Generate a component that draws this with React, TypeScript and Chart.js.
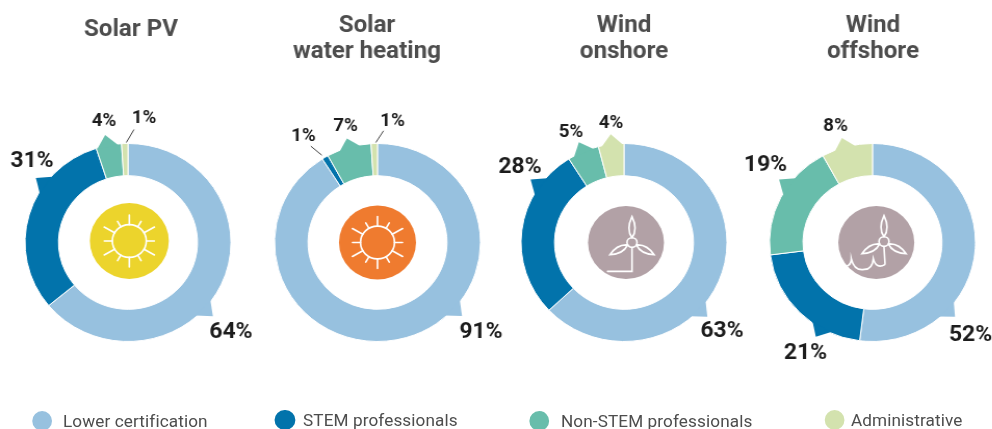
import React, { useEffect, useRef } from "react";
import { Chart, registerables } from "chart.js";

Chart.register(...registerables);

// ---- data ----
const categories = ["Lower certification", "STEM professionals", "Non-STEM professionals", "Administrative"];
const solarPV = [64, 31, 4, 1];
const solarWaterHeating = [91, 1, 7, 1];
const windOnshore = [63, 28, 5, 4];
const windOffshore = [52, 21, 19, 8];
const titleSolarPV = ["Solar PV"];
const titleSolarWater = ["Solar", "water heating"];
const titleOnshore = ["Wind", "onshore"];
const titleOffshore = ["Wind", "offshore"];

// ---- styling / layout ----
// The reference is stretched horizontally by about 4%: the whole stage is drawn narrower and scaled.
const SX = 1.04;
const colors = ["#97c1df", "#0273ab", "#68bdab", "#d3e2ae"];
const TEXT_DARK = "#1c1c1c";
const TITLE = "#4d4d4d";
const OUTER = 99;
const INNER = 66.5;
const CY = 242.5;

type Callout = { dx: number; dy: number; big: boolean; tip?: [number, number]; leader?: [number, number, number, number] };
type Panel = {
  values: number[];
  title: string[];
  titleX: number;
  titleBase: number;
  cx: number;
  left: number;
  width: number;
  icon: "sun" | "onshore" | "offshore";
  iconColor: string;
  iconDx: number;
  iconDy: number;
  iconR: number;
  callouts: Callout[];
};

// cx, titleX, iconDx, callout offsets and tips are in screen pixels; left/width are in stage pixels
const panels: Panel[] = [
  {
    values: solarPV, title: titleSolarPV, titleX: 131, titleBase: 35.5, cx: 128, left: 0, width: 270,
    icon: "sun", iconColor: "#ecd42c", iconDx: 1.3, iconDy: -1.5, iconR: 39.5,
    callouts: [
      { dx: 103, dy: 90, big: true, tip: [131, 112.5] },
      { dx: -96, dy: -81, big: true, tip: [305, 112.5] },
      { dx: -24, dy: -121, big: false, tip: [348, 110] },
      { dx: 16, dy: -124, big: false, leader: [-1.7, -100, 6, -113] },
    ],
  },
  {
    values: solarWaterHeating, title: titleSolarWater, titleX: 367, titleBase: 32, cx: 377.5, left: 221, width: 280,
    icon: "sun", iconColor: "#ef7b2f", iconDx: 0, iconDy: 0, iconR: 38.5,
    callouts: [
      { dx: 103.5, dy: 89.5, big: true, tip: [131, 112] },
      { dx: -74, dy: -106, big: false, leader: [-55.7, -87.3, -66.7, -96.3] },
      { dx: -32, dy: -116, big: false, tip: [343.6, 108.5] },
      { dx: 15, dy: -121, big: false, leader: [-1.7, -100, 6, -111.7] },
    ],
  },
  {
    values: windOnshore, title: titleOnshore, titleX: 624, titleBase: 32, cx: 624, left: 461, width: 270,
    icon: "onshore", iconColor: "#b2a1a6", iconDx: 2, iconDy: 0, iconR: 38,
    callouts: [
      { dx: 98, dy: 89, big: true, tip: [131.7, 111.6] },
      { dx: -104, dy: -75, big: true, tip: [304, 112.7] },
      { dx: -53, dy: -110, big: false, tip: [335.8, 110] },
      { dx: -13, dy: -119, big: false, tip: [353, 109] },
    ],
  },
  {
    values: windOffshore, title: titleOffshore, titleX: 873, titleBase: 32, cx: 872.5, left: 694, width: 260,
    icon: "offshore", iconColor: "#b2a1a6", iconDx: 3.8, iconDy: 0, iconR: 38,
    callouts: [
      { dx: 98, dy: 93, big: true, tip: [132, 111] },
      { dx: -67, dy: 111, big: true, tip: [211, 110] },
      { dx: -107, dy: -77, big: true, tip: [304, 112.7] },
      { dx: -37, dy: -116, big: false, tip: [343.7, 109] },
    ],
  },
];

const legendLayout = [
  { marker: 42, text: 63, y: 421 },
  { marker: 285, text: 303, y: 420 },
  { marker: 539, text: 561, y: 421 },
  { marker: 835, text: 851, y: 420 },
];

const polar = (cx: number, cy: number, deg: number, r: number): [number, number] => {
  const a = (deg * Math.PI) / 180;
  return [cx + r * Math.sin(a), cy - r * Math.cos(a)];
};

function drawSun(ctx: CanvasRenderingContext2D) {
  const rays = [27, 23.5, 29, 25, 29, 23.5, 27, 23.5, 29, 25, 29, 23.5];
  ctx.beginPath();
  ctx.arc(0, 0, 17, 0, Math.PI * 2);
  ctx.stroke();
  rays.forEach((len, i) => {
    const [x0, y0] = polar(0, 0, i * 30, 17);
    const [x1, y1] = polar(0, 0, i * 30, len);
    ctx.beginPath();
    ctx.moveTo(x0, y0);
    ctx.lineTo(x1, y1);
    ctx.stroke();
  });
}

function drawBlade(ctx: CanvasRenderingContext2D, hx: number, hy: number, deg: number, len: number) {
  const [tx, ty] = polar(hx, hy, deg, len);
  const [sx, sy] = polar(hx, hy, deg, 5);
  const [c1x, c1y] = polar(hx, hy, deg - 24, 15);
  const [c2x, c2y] = polar(hx, hy, deg + 24, 15);
  ctx.beginPath();
  ctx.moveTo(sx, sy);
  ctx.quadraticCurveTo(c1x, c1y, tx, ty);
  ctx.quadraticCurveTo(c2x, c2y, sx, sy);
  ctx.stroke();
}

function drawTurbine(ctx: CanvasRenderingContext2D, hx: number, hy: number) {
  ctx.beginPath();
  ctx.arc(hx, hy, 5, 0, Math.PI * 2);
  ctx.stroke();
  drawBlade(ctx, hx, hy, 0, 27);
  drawBlade(ctx, hx, hy, 120, 25.5);
  drawBlade(ctx, hx, hy, 240, 25.5);
}

function drawIcon(ctx: CanvasRenderingContext2D, p: Panel, cx: number, cy: number) {
  ctx.save();
  ctx.translate(cx + p.iconDx / SX, cy + p.iconDy);
  ctx.scale(1 / SX, 1 / SX);
  ctx.fillStyle = p.iconColor;
  ctx.beginPath();
  ctx.arc(0, 0, p.iconR, 0, Math.PI * 2);
  ctx.fill();
  ctx.strokeStyle = "#ffffff";
  ctx.lineWidth = 1.7;
  ctx.lineCap = "round";
  if (p.icon === "sun") {
    drawSun(ctx);
  } else if (p.icon === "onshore") {
    const hx = 6;
    drawTurbine(ctx, hx, 0);
    ctx.beginPath();
    ctx.moveTo(hx, 6);
    ctx.lineTo(hx, 30);
    ctx.lineTo(hx - 24.5, 30);
    ctx.stroke();
  } else {
    const hx = 7.7;
    drawTurbine(ctx, hx, -1);
    ctx.beginPath();
    ctx.moveTo(hx, 5);
    ctx.lineTo(hx + 1, 22);
    ctx.stroke();
    ctx.beginPath();
    ctx.moveTo(-31, 25);
    ctx.quadraticCurveTo(-25, 24, -25, 17);
    ctx.quadraticCurveTo(-22, 30, -12, 28);
    ctx.quadraticCurveTo(-4, 28, -3, 17);
    ctx.quadraticCurveTo(0, 28, 8.5, 23);
    ctx.stroke();
  }
  ctx.restore();
}

function makeDecorPlugin(p: Panel) {
  return {
    id: "decor",
    afterDatasetsDraw(chart: any) {
      const { ctx } = chart;
      const meta = chart.getDatasetMeta(0);
      const first = meta.data[0];
      const cx = first.x;
      const cy = first.y;
      const R = first.outerRadius;

      drawIcon(ctx, p, cx, cy);

      p.callouts.forEach((c, i) => {
        ctx.save();
        if (c.tip) {
          const [screenDx, screenDy] = polar(0, 0, c.tip[0], c.tip[1]);
          const tipDx = screenDx / SX;
          const stageDeg = (Math.atan2(tipDx, -screenDy) * 180) / Math.PI;
          const [ax, ay] = polar(cx, cy, stageDeg - 6, R - 1);
          const [bx, by] = polar(cx, cy, stageDeg + 6, R - 1);
          ctx.fillStyle = colors[i];
          ctx.beginPath();
          ctx.moveTo(ax, ay);
          ctx.lineTo(cx + tipDx, cy + screenDy);
          ctx.lineTo(bx, by);
          ctx.closePath();
          ctx.fill();
        }
        if (c.leader) {
          const [x0, y0, x1, y1] = c.leader;
          ctx.strokeStyle = "#444444";
          ctx.lineWidth = 1;
          ctx.beginPath();
          ctx.moveTo(cx + x0 / SX, cy + y0);
          ctx.lineTo(cx + x1 / SX, cy + y1);
          ctx.stroke();
        }
        ctx.fillStyle = TEXT_DARK;
        ctx.font = `bold ${c.big ? 22 : 18}px Roboto`;
        ctx.textAlign = "center";
        ctx.textBaseline = "middle";
        ctx.fillText(`${p.values[i]}%`, cx + c.dx / SX, cy + c.dy);
        ctx.restore();
      });

      ctx.save();
      ctx.fillStyle = TITLE;
      ctx.font = "bold 23.2px Roboto";
      ctx.textAlign = "center";
      ctx.textBaseline = "alphabetic";
      p.title.forEach((line, i) => {
        ctx.fillText(line, p.titleX / SX - p.left, p.titleBase + i * 26);
      });
      ctx.restore();
    },
  };
}

const HEIGHT = 429;

function Donut({ panel }: { panel: Panel }) {
  const ref = useRef<HTMLCanvasElement | null>(null);
  useEffect(() => {
    if (!ref.current) return;
    const centerInCanvas = panel.cx / SX - panel.left;
    const padLeft = centerInCanvas - OUTER;
    const padRight = panel.width - centerInCanvas - OUTER;
    const chart = new Chart(ref.current, {
      type: "doughnut",
      data: {
        labels: categories,
        datasets: [
          {
            data: panel.values,
            backgroundColor: colors,
            borderColor: "#ffffff",
            borderWidth: 1,
            radius: OUTER,
            cutout: INNER,
          } as any,
        ],
      },
      options: {
        responsive: false,
        animation: false,
        layout: {
          padding: { left: padLeft, right: padRight, top: CY - OUTER, bottom: HEIGHT - CY - OUTER },
        },
        plugins: { legend: { display: false }, tooltip: { enabled: false }, title: { display: false } },
      },
      plugins: [makeDecorPlugin(panel)],
    });
    return () => chart.destroy();
  }, [panel]);
  return (
    <canvas
      ref={ref}
      width={panel.width}
      height={HEIGHT}
      style={{ position: "absolute", left: panel.left, top: 0, width: panel.width, height: HEIGHT }}
    />
  );
}

export default function App() {
  useEffect(() => {
    document.body.style.margin = "0";
    document.body.style.overflow = "hidden";
  }, []);
  return (
    <div style={{ position: "relative", width: 992, height: 429, overflow: "hidden", background: "#fff", fontFamily: "Roboto" }}>
      <div style={{ position: "absolute", left: 0, top: 0, width: 954, height: 429, transform: `scaleX(${SX})`, transformOrigin: "0 0" }}>
        {panels.map((p) => (
          <Donut key={p.title.join(" ")} panel={p} />
        ))}
        {categories.map((c, i) => (
          <React.Fragment key={c}>
            <span
              style={{
                position: "absolute",
                left: legendLayout[i].marker / SX - 9.6,
                top: legendLayout[i].y - 10,
                width: 19.2,
                height: 20,
                borderRadius: "50%",
                background: colors[i],
              }}
            />
            <span
              style={{
                position: "absolute",
                left: legendLayout[i].text / SX,
                top: legendLayout[i].y - 9.5,
                lineHeight: "20px",
                fontSize: 16.5,
                letterSpacing: 0.1,
                color: "#4d4d4d",
                whiteSpace: "nowrap",
              }}
            >
              {c}
            </span>
          </React.Fragment>
        ))}
      </div>
    </div>
  );
}
